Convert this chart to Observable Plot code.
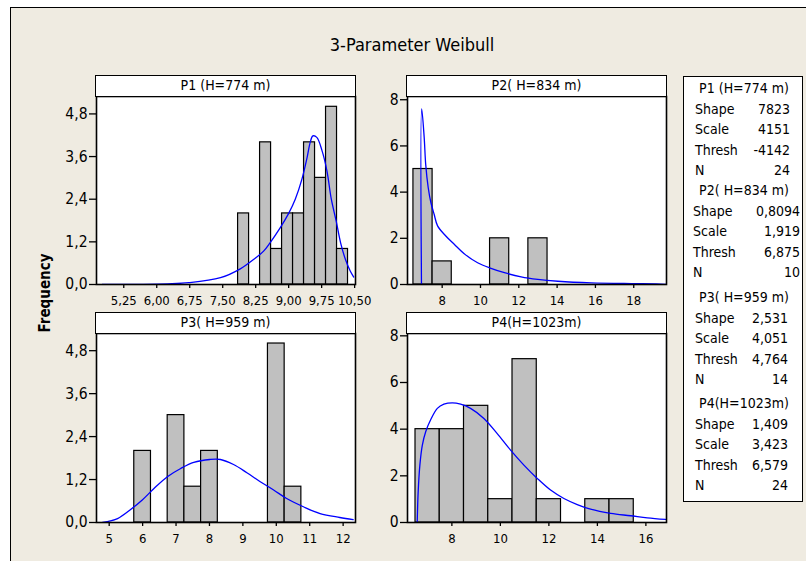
<!DOCTYPE html>
<html>
<head>
<meta charset="utf-8">
<script src="https://cdn.jsdelivr.net/npm/d3@7"></script>
<script src="https://cdn.jsdelivr.net/npm/@observablehq/plot@0.6"></script>
<style>
  html, body { margin: 0; padding: 0; background: #fff; }
  #root { position: relative; width: 806px; height: 561px; overflow: hidden; font-family: "DejaVu Sans Condensed", "DejaVu Sans", sans-serif; color: #000; }
  .abs { position: absolute; }
  .hdr { position: absolute; box-sizing: border-box; border: 1.5px solid #000; background: #fff; text-align: center; font-size: 14px; line-height: 19px; white-space: nowrap; }
  .leg { position: absolute; font-size: 14px; white-space: nowrap; line-height: 16px; }
</style>
</head>
<body>
<div id="root"></div>
<script>
// ---------------- data ----------------
const chartTitle = "3-Parameter Weibull";
const yLabel = "Frequency";
const panelTitles = ["P1 (H=774 m)", "P2( H=834 m)", "P3( H=959 m)", "P4(H=1023m)"];

// P1
const p1Edges = [7.85, 8.10, 8.35, 8.60, 8.85, 9.10, 9.35, 9.60, 9.85, 10.10, 10.35];
const p1Counts = [2, 0, 4, 1, 2, 2, 4, 3, 5, 1];
const p1CurveX = [4.76, 6.24, 6.73, 7.45, 7.90, 8.21, 8.43, 8.58, 8.81, 9.00, 9.15, 9.30, 9.42, 9.49, 9.55, 9.64, 9.76, 9.87, 9.97, 10.08, 10.18, 10.29, 10.40, 10.48];
const p1CurveY = [0, 0.02, 0.05, 0.19, 0.44, 0.71, 0.94, 1.18, 1.60, 2.00, 2.40, 2.96, 3.58, 4.00, 4.18, 4.14, 3.76, 3.20, 2.40, 1.79, 1.18, 0.71, 0.38, 0.21];
const p1XDomain = [4.63, 10.52];
const p1YDomain = [0, 5.29];
const p1XTicks = [5.25, 6.00, 6.75, 7.50, 8.25, 9.00, 9.75, 10.50];
const p1YTicks = [0, 1.2, 2.4, 3.6, 4.8];

// P2
const p2Edges = [6.5, 7.5, 8.5, 9.5, 10.5, 11.5, 12.5, 13.5];
const p2Counts = [5, 1, 0, 0, 2, 0, 2];
const p2CurveX = [6.92, 6.93, 7.06, 7.14, 7.27, 7.41, 7.58, 7.76, 8.19, 8.63, 9.15, 9.85, 10.55, 11.25, 12.12, 12.99, 14.04, 15.78, 17.88, 19.19, 19.71];
const p2CurveY = [0, 7.6, 6.38, 5.2, 4.2, 3.55, 3.04, 2.54, 2.1, 1.74, 1.33, 0.94, 0.70, 0.51, 0.33, 0.22, 0.14, 0.07, 0.04, 0.03, 0.0];
const p2XDomain = [6.19, 19.71];
const p2YDomain = [0, 8.14];
const p2XTicks = [8, 10, 12, 14, 16, 18];
const p2YTicks = [0, 2, 4, 6, 8];

// P3
const p3Edges = [5.75, 6.25, 6.75, 7.25, 7.75, 8.25, 8.75, 9.25, 9.75, 10.25, 10.75];
const p3Counts = [2, 0, 3, 1, 2, 0, 0, 0, 5, 1];
const p3CurveX = [4.80, 5.25, 5.65, 5.99, 6.34, 6.74, 7.14, 7.53, 8.01, 8.33, 8.72, 9.12, 9.52, 9.92, 10.31, 10.81, 11.31, 11.90, 12.30];
const p3CurveY = [0.0, 0.11, 0.37, 0.63, 0.95, 1.28, 1.51, 1.68, 1.76, 1.76, 1.62, 1.39, 1.14, 0.91, 0.67, 0.44, 0.25, 0.14, 0.08];
const p3XDomain = [4.62, 12.37];
const p3YDomain = [0, 5.28];
const p3XTicks = [5, 6, 7, 8, 9, 10, 11, 12];
const p3YTicks = [0, 1.2, 2.4, 3.6, 4.8];

// P4
const p4Edges = [6.5, 7.5, 8.5, 9.5, 10.5, 11.5, 12.5, 13.5, 14.5, 15.5];
const p4Counts = [4, 4, 5, 1, 7, 1, 0, 1, 1];
const p4CurveX = [6.57, 6.61, 6.68, 6.78, 6.92, 7.12, 7.40, 7.67, 8.02, 8.36, 8.77, 9.32, 9.87, 10.42, 10.97, 11.52, 12.07, 12.62, 13.17, 13.72, 14.55, 15.37, 16.06, 16.81];
const p4CurveY = [0, 1.31, 2.46, 3.31, 3.89, 4.39, 4.89, 5.07, 5.13, 5.07, 4.89, 4.46, 3.81, 3.10, 2.46, 1.89, 1.39, 1.03, 0.77, 0.57, 0.39, 0.29, 0.20, 0.13];
const p4XDomain = [6.17, 16.85];
const p4YDomain = [0, 8.1];
const p4XTicks = [8, 10, 12, 14, 16];
const p4YTicks = [0, 2, 4, 6, 8];

// legend table
const legendTitles = ["P1 (H=774 m)", "P2( H=834 m)", "P3( H=959 m)", "P4(H=1023m)"];
const legendLabels = ["Shape", "Scale", "Thresh", "N"];
const shapeVals = ["7823", "0,8094", "2,531", "1,409"];
const scaleVals = ["4151", "1,919", "4,051", "3,423"];
const threshVals = ["-4142", "6,875", "4,764", "6,579"];
const nVals = ["24", "10", "14", "24"];

// ---------------- drawing ----------------
const FONT = '"DejaVu Sans Condensed", "DejaVu Sans", sans-serif';
const loc = d3.formatLocale({decimal: ",", thousands: ".", grouping: [3], currency: ["", ""]});
const f1 = loc.format(".1f"), f2 = loc.format(".2f"), f0 = loc.format("d");
const root = document.getElementById("root");

function el(cls, css, text) {
  const d = document.createElement("div");
  if (cls) d.className = cls;
  Object.assign(d.style, css);
  if (text != null) d.textContent = text;
  root.appendChild(d);
  return d;
}

// outer frame
el("abs", {left: "10px", top: "7px", width: "900px", height: "700px", borderLeft: "1.5px solid #000", borderTop: "1.5px solid #000", background: "#efebe1"});

// title
el("abs", {left: "262px", top: "34px", width: "300px", textAlign: "center", fontSize: "18px", lineHeight: "22px"}, chartTitle);

// y label
el("abs", {left: "45px", top: "293px", transform: "translate(-50%,-50%) rotate(-90deg)", fontSize: "15px", fontWeight: "bold", whiteSpace: "nowrap"}, yLabel);

function panel(o) {
  const ml = 50, mr = 12, mt = 4, mb = 30, w = 259;
  const bins = o.counts.map((c, i) => ({x1: o.edges[i], x2: o.edges[i + 1], c})).filter(d => d.c > 0);
  const curve = o.cx.map((x, i) => ({x, y: o.cy[i]}));
  const chart = Plot.plot({
    width: ml + w + mr, height: mt + o.h + mb,
    marginLeft: ml, marginRight: mr, marginTop: mt, marginBottom: mb,
    style: {background: "transparent", color: "#000", fontFamily: FONT, overflow: "visible"},
    x: {domain: o.xDomain, label: null},
    y: {domain: o.yDomain, label: null},
    marks: [
      Plot.frame({fill: "#fff", stroke: null}),
      Plot.rect(bins, {x1: "x1", x2: "x2", y1: 0, y2: "c", fill: "#c0c0c0", stroke: "#000", strokeWidth: 1.2}),
      Plot.line(curve, {x: "x", y: "y", stroke: "#0000ff", strokeWidth: 1.3, curve: "catmull-rom", clip: true}),
      Plot.frame({stroke: "#000", strokeWidth: 1.6}),
      Plot.axisX({ticks: o.xTicks, tickFormat: o.xFmt, tickSize: 4, tickPadding: 7, label: null, strokeWidth: 1.3, fontSize: 13}),
      Plot.axisY({ticks: o.yTicks, tickFormat: o.yFmt, tickSize: 7, tickPadding: 2, label: null, strokeWidth: 1.3, fontSize: 15.5})
    ]
  });
  chart.style.position = "absolute";
  chart.style.left = (o.left - ml) + "px";
  chart.style.top = (o.top - mt) + "px";
  root.appendChild(chart);
  el("hdr", {left: (o.left - 1) + "px", top: (o.top - 21) + "px", width: (w + 2) + "px", height: "22px"}, o.title);
}

panel({left: 96, top: 96, h: 188, title: panelTitles[0], edges: p1Edges, counts: p1Counts, cx: p1CurveX, cy: p1CurveY,
  xDomain: p1XDomain, yDomain: p1YDomain, xTicks: p1XTicks, yTicks: p1YTicks, xFmt: f2, yFmt: f1});
panel({left: 407, top: 96, h: 188, title: panelTitles[1], edges: p2Edges, counts: p2Counts, cx: p2CurveX, cy: p2CurveY,
  xDomain: p2XDomain, yDomain: p2YDomain, xTicks: p2XTicks, yTicks: p2YTicks, xFmt: f0, yFmt: f0});
panel({left: 96, top: 333, h: 189, title: panelTitles[2], edges: p3Edges, counts: p3Counts, cx: p3CurveX, cy: p3CurveY,
  xDomain: p3XDomain, yDomain: p3YDomain, xTicks: p3XTicks, yTicks: p3YTicks, xFmt: f0, yFmt: f1});
panel({left: 407, top: 333, h: 189, title: panelTitles[3], edges: p4Edges, counts: p4Counts, cx: p4CurveX, cy: p4CurveY,
  xDomain: p4XDomain, yDomain: p4YDomain, xTicks: p4XTicks, yTicks: p4YTicks, xFmt: f0, yFmt: f0});

// legend box
el("abs", {left: "683px", top: "76px", width: "120px", height: "426px", boxSizing: "border-box", border: "1.5px solid #000", background: "#fff"});
const groupTop = [88, 190, 297, 403];
const rowOffsets = [21, 41, 61.5, 82];
const labelLeft = [695, 693, 695, 695];
const valueRight = [790, 800, 788, 788];
const valueCols = [shapeVals, scaleVals, threshVals, nVals];
legendTitles.forEach((t, g) => {
  el("leg", {left: "684px", width: "120px", textAlign: "center", top: (groupTop[g] - 8) + "px"}, t);
  legendLabels.forEach((lab, r) => {
    const y = groupTop[g] + rowOffsets[r] - 8;
    el("leg", {left: labelLeft[g] + "px", top: y + "px"}, lab);
    el("leg", {left: (valueRight[g] - 80) + "px", width: "80px", textAlign: "right", top: y + "px"}, valueCols[r][g]);
  });
});
</script>
</body>
</html>
